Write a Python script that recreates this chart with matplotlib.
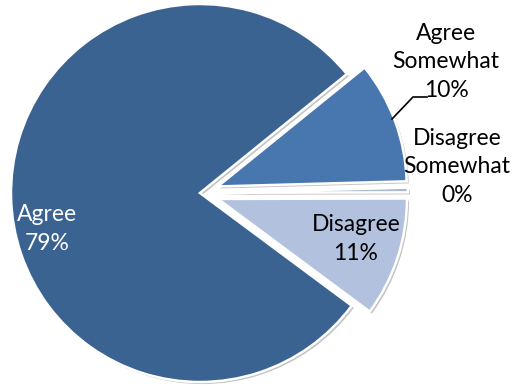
import matplotlib
matplotlib.use("Agg")
import matplotlib.pyplot as plt
import matplotlib.patheffects as pe

categories = ["Agree", "Agree Somewhat", "Disagree Somewhat", "Disagree"]
values = [79, 10.4, 0.4, 10.2]
pct_labels = ["79%", "10%", "0%", "11%"]
colors = ["#3B6392", "#4876AE", "#A9BAD6", "#B2C2DE"]
explode = [0, 0.10, 0.10, 0.10]

plt.rcParams['font.family'] = ['Lato', 'DejaVu Sans']

fig = plt.figure(figsize=(5.16, 3.87), dpi=100)
ax = fig.add_axes([0, 0, 1, 1])
R = 189.0

wedges, _ = ax.pie(values, colors=colors, explode=explode, startangle=39 + 284.4,
                   counterclock=False, radius=1.0,
                   wedgeprops=dict(edgecolor='white', linewidth=1.8))
ax.set_xlim(-200 / R, 316 / R)
ax.set_ylim(-(387 - 193) / R, 193 / R)
ax.set_aspect('equal')
ax.axis('off')
for w in wedges:
    w.set_path_effects([pe.SimplePatchShadow(offset=(1.5, -1.5), shadow_rgbFace='#888888', alpha=0.5),
                        pe.Normal()])

fs = 16.5
ls = 1.42
def px(x, y):
    return (x - 200) / R, (193 - y) / R

# Agree label (inside)
ax.text(*px(47, 229), f"{categories[0]}\n{pct_labels[0]}", color='white', fontsize=fs,
        ha='center', va='center', linespacing=ls)
# Agree Somewhat label
ax.text(*px(446, 62), "Agree\nSomewhat\n" + pct_labels[1], color='black', fontsize=fs,
        ha='center', va='center', linespacing=ls)
# leader line
xs, ys = zip(*[px(392, 119), px(413, 97), px(427, 97)])
ax.plot(xs, ys, color='black', lw=1.2)
# Disagree Somewhat label
ax.text(*px(457, 167), "Disagree\nSomewhat\n" + pct_labels[2], color='black', fontsize=fs,
        ha='center', va='center', linespacing=ls)
# Disagree label (inside)
ax.text(*px(356, 239), f"{categories[3]}\n{pct_labels[3]}", color='black', fontsize=fs,
        ha='center', va='center', linespacing=ls)

fig.savefig("out.png", dpi=100)
